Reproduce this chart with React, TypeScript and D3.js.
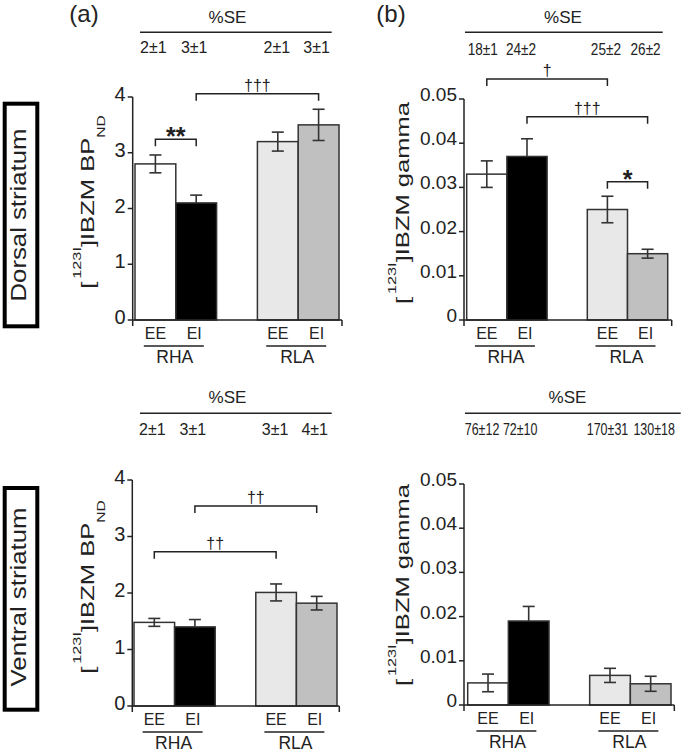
import React from "react";
import * as d3 from "d3";

const groups = ["RHA", "RLA"];
const conditions = ["EE", "EI"];
const barFills = ["#ffffff", "#000000", "#e8e8e8", "#c0c0c0"];

const dorsalBP = [2.8, 2.1, 3.2, 3.5];
const dorsalBPErr = [0.16, 0.14, 0.17, 0.28];
const dorsalBPSE = ["2±1", "3±1", "2±1", "3±1"];

const dorsalGamma = [0.033, 0.037, 0.025, 0.015];
const dorsalGammaErr = [0.003, 0.004, 0.003, 0.001];
const dorsalGammaSE = ["18±1", "24±2", "25±2", "26±2"];

const ventralBP = [1.48, 1.4, 2.01, 1.82];
const ventralBPErr = [0.07, 0.13, 0.15, 0.12];
const ventralBPSE = ["2±1", "3±1", "3±1", "4±1"];

const ventralGamma = [0.005, 0.019, 0.0067, 0.0048];
const ventralGammaErr = [0.002, 0.0033, 0.0016, 0.0017];
const ventralGammaSE = ["76±12", "72±10", "170±31", "130±18"];

const bpTicks = [0, 1, 2, 3, 4];
const gammaTicks = [0, 0.01, 0.02, 0.03, 0.04, 0.05];

// significance brackets: [fromBar, toBar, level (data units), label]
const dorsalBPSig: [number, number, number, string][] = [
  [0, 1, 3.24, "**"],
  [1, 3, 4.06, "†††"],
];
const dorsalGammaSig: [number, number, number, string][] = [
  [0, 2, 0.0545, "†"],
  [1, 3, 0.046, "†††"],
  [2, 3, 0.0313, "*"],
];
const ventralBPSig: [number, number, number, string][] = [
  [1, 3, 3.54, "††"],
  [0, 2, 2.73, "††"],
];
const ventralGammaSig: [number, number, number, string][] = [];

const FONT = "'Liberation Sans', Arial, Helvetica, sans-serif";
const INK = "#222";

type Layout = {
  ax: number; y0: number; yTop: number; xEnd: number; barStart: number; barEnd: number;
  seX1: number; seX2: number; seY: number; seTitleX: number; seTitleY: number; seValY: number;
  seFont: number; seScale: number; seDx: number[];
  yLabX: number; yLabY: number; tickFont: number; tickDy: number;
  kind: "bp" | "gamma";
};

function Panel({ L, values, errors, se, sig, ticks, max }: {
  L: Layout; values: number[]; errors: number[]; se: string[];
  sig: [number, number, number, string][]; ticks: number[]; max: number;
}) {
  const y = d3.scaleLinear().domain([0, max]).range([L.y0, L.yTop]);
  const slotKeys = ["RHA-EE", "RHA-EI", "gap", "RLA-EE", "RLA-EI"];
  const x = d3.scaleBand().domain(slotKeys).range([L.barStart, L.barEnd]).padding(0);
  const barKeys = groups.flatMap((g) => conditions.map((c) => `${g}-${c}`));
  const bw = x.bandwidth();
  const cx = (i: number) => (x(barKeys[i]) as number) + bw / 2;
  const fmt = L.kind === "bp" ? d3.format("d") : (v: number) => (v === 0 ? "0" : d3.format(".2f")(v));
  const cap = 6;
  return (
    <g fontFamily={FONT} fill={INK}>
      {/* %SE header */}
      <text x={L.seTitleX} y={L.seTitleY} textAnchor="middle" fontSize={17}>%SE</text>
      <line x1={L.seX1} x2={L.seX2} y1={L.seY} y2={L.seY} stroke={INK} strokeWidth={1.5} />
      {se.map((s, i) => (
        <g key={i} transform={`translate(${cx(i) + L.seDx[i]},${L.seValY}) scale(${L.seScale},1)`}>
          <text textAnchor="middle" fontSize={L.seFont}>{s}</text>
        </g>
      ))}
      {/* bars */}
      {values.map((v, i) => (
        <rect key={i} x={x(barKeys[i])} y={y(v)} width={bw} height={L.y0 - y(v)}
          fill={barFills[i]} stroke="#333" strokeWidth={1.5} />
      ))}
      {/* error bars */}
      {values.map((v, i) => {
        const c = cx(i);
        const hi = y(v + errors[i]);
        const lo = y(v - errors[i]);
        return (
          <g key={i} stroke="#333" strokeWidth={1.6}>
            <line x1={c} x2={c} y1={hi} y2={i === 1 ? y(v) : lo} />
            {i === 1 ? null : <line x1={c - cap} x2={c + cap} y1={lo} y2={lo} />}
            <line x1={c - cap} x2={c + cap} y1={hi} y2={hi} />
          </g>
        );
      })}
      {/* y axis */}
      <line x1={L.ax} x2={L.ax} y1={y(max)} y2={L.y0 + 6} stroke={INK} strokeWidth={1.5} />
      {ticks.map((t) => (
        <g key={t}>
          <line x1={L.ax - 5} x2={L.ax} y1={y(t)} y2={y(t)} stroke={INK} strokeWidth={1.5} />
          <text x={L.ax - 7} y={y(t) + L.tickDy} textAnchor="end" fontSize={L.tickFont}>{fmt(t)}</text>
        </g>
      ))}
      {/* x axis */}
      <line x1={L.ax} x2={L.xEnd} y1={L.y0} y2={L.y0} stroke={INK} strokeWidth={1.5} />
      <line x1={L.xEnd} x2={L.xEnd} y1={L.y0} y2={L.y0 + 6} stroke={INK} strokeWidth={1.5} />
      {barKeys.map((k, i) => (
        <text key={k} x={cx(i) - (i % 2 === 1 ? 2 : 0)} y={L.y0 + 19} textAnchor="middle" fontSize={16}>
          {conditions[i % 2]}
        </text>
      ))}
      {groups.map((g, gi) => {
        const mid = (cx(gi * 2) + cx(gi * 2 + 1)) / 2 - 2;
        return (
          <g key={g}>
            <line x1={mid - 30} x2={mid + 30} y1={L.y0 + 26} y2={L.y0 + 26} stroke={INK} strokeWidth={1.5} />
            <text x={mid + 1} y={L.y0 + 42.5} textAnchor="middle" fontSize={17.5}>{g}</text>
          </g>
        );
      })}
      {/* significance brackets */}
      {sig.map(([a, b, lvl, lab], i) => {
        const yy = y(lvl);
        const x1 = cx(a);
        const x2 = cx(b);
        const star = lab.startsWith("*");
        return (
          <g key={i}>
            <path d={`M${x1},${yy + 7}V${yy}H${x2}V${yy + 7}`} fill="none" stroke={INK} strokeWidth={1.5} />
            <text x={(x1 + x2) / 2} y={star ? yy + 6 : yy - 3} textAnchor="middle"
              fontSize={star ? 25 : 16} fontWeight={star ? "bold" : "normal"}>{lab}</text>
          </g>
        );
      })}
      {/* y label */}
      <g transform={`translate(${L.yLabX},${L.yLabY}) rotate(-90) scale(1.42,1)`}>
        <text textAnchor="middle" fontSize={18}>
          [<tspan fontSize={11.5} dx={2} dy={-13}>123I</tspan>
          <tspan dy={13}>]IBZM {L.kind === "bp" ? "BP" : "gamma"}</tspan>
          {L.kind === "bp" ? <tspan fontSize={11} dy={12}>ND</tspan> : null}
        </text>
      </g>
    </g>
  );
}

export default function App() {
  const TL: Layout = {
    ax: 132.7, y0: 320, yTop: 97, xEnd: 342, barStart: 135, barEnd: 339,
    seX1: 140, seX2: 331.7, seY: 32.3, seTitleX: 227.5, seTitleY: 23, seValY: 53.3,
    seFont: 16, seScale: 1.0, seDx: [-2, -2, -1, -2],
    yLabX: 93.5, yLabY: 202, tickFont: 20, tickDy: 4, kind: "bp",
  };
  const TR: Layout = {
    ax: 464, y0: 320, yTop: 99, xEnd: 671.7, barStart: 466.7, barEnd: 667.7,
    seX1: 465, seX2: 662.7, seY: 32.3, seTitleX: 563, seTitleY: 23, seValY: 55,
    seFont: 16, seScale: 0.85, seDx: [-4, -6, -1.5, -2],
    yLabX: 409, yLabY: 203, tickFont: 19, tickDy: 2, kind: "gamma",
  };
  const BL: Layout = {
    ax: 132.3, y0: 706, yTop: 480, xEnd: 339.3, barStart: 134, barEnd: 337,
    seX1: 140, seX2: 331.7, seY: 413.3, seTitleX: 227.5, seTitleY: 403, seValY: 435,
    seFont: 16, seScale: 1.0, seDx: [-2, -2, -1, -2],
    yLabX: 93.5, yLabY: 587, tickFont: 20, tickDy: 4, kind: "bp",
  };
  const BR: Layout = {
    ax: 464, y0: 705, yTop: 484, xEnd: 674.3, barStart: 467.7, barEnd: 671,
    seX1: 465, seX2: 680.7, seY: 413.3, seTitleX: 567.5, seTitleY: 403, seValY: 435,
    seFont: 16, seScale: 0.78, seDx: [-6, -8.5, -2.5, 3.5],
    yLabX: 409, yLabY: 585, tickFont: 19, tickDy: 2, kind: "gamma",
  };
  return (
    <svg width={685} height={752} style={{ position: "absolute", left: 0, top: 0, background: "#fff" }}>
      <rect width={685} height={752} fill="#fff" />
      <text x={84} y={22} textAnchor="middle" fontSize={24} fontFamily={FONT} fill={INK}>(a)</text>
      <text x={391} y={22} textAnchor="middle" fontSize={24} fontFamily={FONT} fill={INK}>(b)</text>
      <Panel L={TL} values={dorsalBP} errors={dorsalBPErr} se={dorsalBPSE} sig={dorsalBPSig} ticks={bpTicks} max={4} />
      <Panel L={TR} values={dorsalGamma} errors={dorsalGammaErr} se={dorsalGammaSE} sig={dorsalGammaSig} ticks={gammaTicks} max={0.05} />
      <Panel L={BL} values={ventralBP} errors={ventralBPErr} se={ventralBPSE} sig={ventralBPSig} ticks={bpTicks} max={4} />
      <Panel L={BR} values={ventralGamma} errors={ventralGammaErr} se={ventralGammaSE} sig={ventralGammaSig} ticks={gammaTicks} max={0.05} />
      {/* region boxes */}
      <rect x={4.7} y={103.7} width={32.6} height={222.6} fill="none" stroke="#000" strokeWidth={4} />
      <g transform="translate(26,215) rotate(-90) scale(1.17,1)">
        <text textAnchor="middle" fontSize={22} fontFamily={FONT} fill={INK}>Dorsal striatum</text>
      </g>
      <rect x={4.7} y={488} width={32.6} height={221.7} fill="none" stroke="#000" strokeWidth={4} />
      <g transform="translate(26,597) rotate(-90) scale(1.17,1)">
        <text textAnchor="middle" fontSize={22} fontFamily={FONT} fill={INK}>Ventral striatum</text>
      </g>
    </svg>
  );
}
